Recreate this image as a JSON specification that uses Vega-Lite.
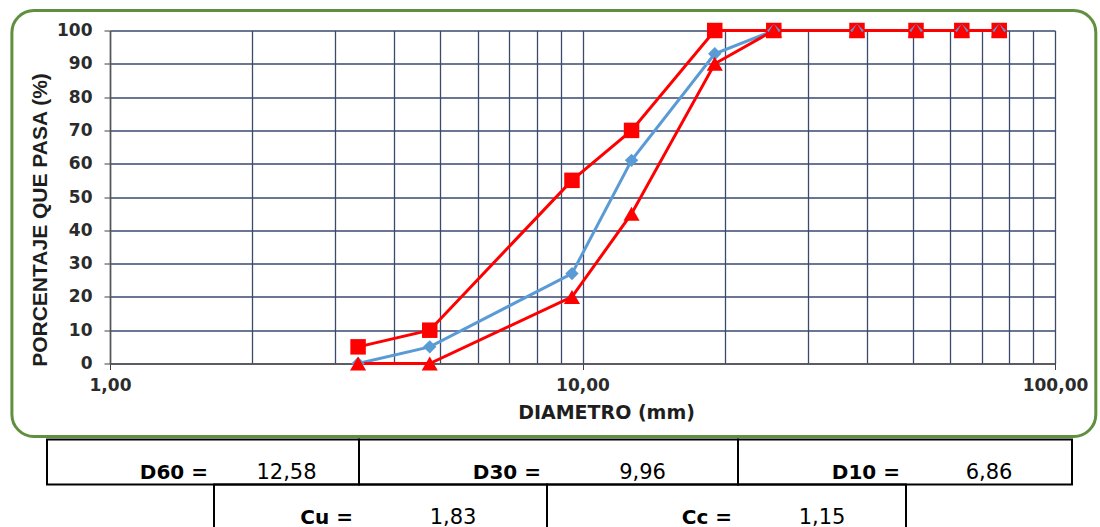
{
  "$schema": "https://vega.github.io/schema/vega-lite/v6.json",
  "padding": {"left": 10, "top": 8.5, "right": 0, "bottom": 0},
  "background": "white",
  "bounds": "flush",
  "spacing": 76,
  "config": {"view": {"stroke": null}, "font": "DejaVu Sans"},
  "datasets": {
    "curvas": [
      {"d": 3.35, "p": 5, "serie": "Superior"},
      {"d": 4.75, "p": 10, "serie": "Superior"},
      {"d": 9.5, "p": 55, "serie": "Superior"},
      {"d": 12.7, "p": 70, "serie": "Superior"},
      {"d": 19.05, "p": 100, "serie": "Superior"},
      {"d": 25.4, "p": 100, "serie": "Superior"},
      {"d": 38.1, "p": 100, "serie": "Superior"},
      {"d": 50.8, "p": 100, "serie": "Superior"},
      {"d": 63.5, "p": 100, "serie": "Superior"},
      {"d": 76.2, "p": 100, "serie": "Superior"},
      {"d": 3.35, "p": 0, "serie": "Muestra"},
      {"d": 4.75, "p": 5, "serie": "Muestra"},
      {"d": 9.5, "p": 27, "serie": "Muestra"},
      {"d": 12.7, "p": 61, "serie": "Muestra"},
      {"d": 19.05, "p": 93, "serie": "Muestra"},
      {"d": 25.4, "p": 100, "serie": "Muestra"},
      {"d": 38.1, "p": 100, "serie": "Muestra"},
      {"d": 50.8, "p": 100, "serie": "Muestra"},
      {"d": 63.5, "p": 100, "serie": "Muestra"},
      {"d": 76.2, "p": 100, "serie": "Muestra"},
      {"d": 3.35, "p": 0, "serie": "Inferior"},
      {"d": 4.75, "p": 0, "serie": "Inferior"},
      {"d": 9.5, "p": 20, "serie": "Inferior"},
      {"d": 12.7, "p": 45, "serie": "Inferior"},
      {"d": 19.05, "p": 90, "serie": "Inferior"},
      {"d": 25.4, "p": 100, "serie": "Inferior"},
      {"d": 38.1, "p": 100, "serie": "Inferior"},
      {"d": 50.8, "p": 100, "serie": "Inferior"},
      {"d": 63.5, "p": 100, "serie": "Inferior"},
      {"d": 76.2, "p": 100, "serie": "Inferior"}
    ],
    "tabla": [
      {"row": 1, "c0": 0, "c1": 2, "label": "D60 =", "value": "12,58", "lcol": 1, "vcol": 1.5},
      {"row": 1, "c0": 2, "c1": 4, "label": "D30 =", "value": "9,96", "lcol": 3, "vcol": 3.5},
      {"row": 1, "c0": 4, "c1": 6, "label": "D10 =", "value": "6,86", "lcol": 5, "vcol": 5.5},
      {"row": 2, "c0": 1, "c1": 3, "label": "Cu =", "value": "1,83", "lcol": 2, "vcol": 2.5},
      {"row": 2, "c0": 3, "c1": 5, "label": "Cc =", "value": "1,15", "lcol": 4, "vcol": 4.5}
    ]
  },
  "vconcat": [
    {
      "width": 945,
      "height": 333,
      "layer": [
        {
          "data": {"values": [{}]},
          "mark": {"type": "rect", "filled": false, "color": "#5f8f3f", "stroke": "#5f8f3f", "strokeWidth": 3, "cornerRadius": 22, "clip": false},
          "encoding": {
            "x": {"datum": 0.62, "type": "quantitative",
              "scale": {"type": "log", "domain": [1, 100], "nice": false},
              "axis": {
                "values": [1, 2, 3, 4, 5, 6, 7, 8, 9, 10, 20, 30, 40, 50, 60, 70, 80, 90, 100],
                "labelExpr": "datum.value == 1 || datum.value == 10 || datum.value == 100 ? replace(format(datum.value, '.2f'), '.', ',') : ''",
                "title": "DIAMETRO (mm)",
                "grid": true, "gridColor": "#3a4a6e", "gridWidth": 1.3,
                "tickSize": 6, "tickColor": "#404040",
                "tickOpacity": {"condition": {"test": "datum.value == 1 || datum.value == 10 || datum.value == 100", "value": 1}, "value": 0},
                "domainColor": "#555555", "domainWidth": 1.5,
                "labelFont": "DejaVu Sans", "labelFontSize": 17, "labelFontWeight": "bold", "labelColor": "#2b2b2b",
                "labelPadding": 8, "labelOverlap": false, "labelFlush": false,
                "titleFont": "DejaVu Sans", "titleFontSize": 19, "titleFontWeight": "bold", "titleColor": "#1e1e1e",
                "titlePadding": 10, "titleX": 496
              }
            },
            "x2": {"datum": 122},
            "y": {"datum": 106, "type": "quantitative",
              "scale": {"domain": [0, 100], "nice": false, "zero": false},
              "axis": {
                "values": [0, 10, 20, 30, 40, 50, 60, 70, 80, 90, 100],
                "title": "PORCENTAJE QUE PASA (%)",
                "grid": true, "gridColor": "#3a4a6e", "gridWidth": 1.3,
                "tickSize": 6, "tickColor": "#404040",
                "domainColor": "#555555", "domainWidth": 1.5,
                "labelFont": "DejaVu Sans", "labelFontSize": 17, "labelFontWeight": "bold", "labelColor": "#2b2b2b",
                "labelPadding": 12, "labelOverlap": false,
                "titleFont": "Liberation Sans", "titleFontSize": 21, "titleFontWeight": "bold", "titleColor": "#1e1e1e",
                "titlePadding": 6, "titleY": 189
              }
            },
            "y2": {"datum": -21.9}
          }
        },
        {
          "data": {"name": "curvas"},
          "mark": {"type": "line", "strokeWidth": 3},
          "encoding": {
            "x": {"field": "d", "type": "quantitative",
              "scale": {"type": "log", "domain": [1, 100], "nice": false},
              "axis": {
                "values": [1, 2, 3, 4, 5, 6, 7, 8, 9, 10, 20, 30, 40, 50, 60, 70, 80, 90, 100],
                "labelExpr": "datum.value == 1 || datum.value == 10 || datum.value == 100 ? replace(format(datum.value, '.2f'), '.', ',') : ''",
                "title": "DIAMETRO (mm)",
                "grid": true, "gridColor": "#3a4a6e", "gridWidth": 1.3,
                "tickSize": 6, "tickColor": "#404040",
                "tickOpacity": {"condition": {"test": "datum.value == 1 || datum.value == 10 || datum.value == 100", "value": 1}, "value": 0},
                "domainColor": "#555555", "domainWidth": 1.5,
                "labelFont": "DejaVu Sans", "labelFontSize": 17, "labelFontWeight": "bold", "labelColor": "#2b2b2b",
                "labelPadding": 8, "labelOverlap": false, "labelFlush": false,
                "titleFont": "DejaVu Sans", "titleFontSize": 19, "titleFontWeight": "bold", "titleColor": "#1e1e1e",
                "titlePadding": 10, "titleX": 496
              }
            },
            "y": {"field": "p", "type": "quantitative",
              "scale": {"domain": [0, 100], "nice": false, "zero": false},
              "axis": {
                "values": [0, 10, 20, 30, 40, 50, 60, 70, 80, 90, 100],
                "title": "PORCENTAJE QUE PASA (%)",
                "grid": true, "gridColor": "#3a4a6e", "gridWidth": 1.3,
                "tickSize": 6, "tickColor": "#404040",
                "domainColor": "#555555", "domainWidth": 1.5,
                "labelFont": "DejaVu Sans", "labelFontSize": 17, "labelFontWeight": "bold", "labelColor": "#2b2b2b",
                "labelPadding": 12, "labelOverlap": false,
                "titleFont": "Liberation Sans", "titleFontSize": 21, "titleFontWeight": "bold", "titleColor": "#1e1e1e",
                "titlePadding": 6, "titleY": 189
              }
            },
            "color": {"field": "serie", "type": "nominal",
              "scale": {"domain": ["Superior", "Muestra", "Inferior"], "range": ["#ff0000", "#5b9bd5", "#ff0000"]},
              "legend": null}
          }
        },
        {
          "data": {"name": "curvas"},
          "mark": {"type": "point", "filled": true, "opacity": 1, "strokeWidth": 0},
          "encoding": {
            "x": {"field": "d", "type": "quantitative",
              "scale": {"type": "log", "domain": [1, 100], "nice": false},
              "axis": {
                "values": [1, 2, 3, 4, 5, 6, 7, 8, 9, 10, 20, 30, 40, 50, 60, 70, 80, 90, 100],
                "labelExpr": "datum.value == 1 || datum.value == 10 || datum.value == 100 ? replace(format(datum.value, '.2f'), '.', ',') : ''",
                "title": "DIAMETRO (mm)",
                "grid": true, "gridColor": "#3a4a6e", "gridWidth": 1.3,
                "tickSize": 6, "tickColor": "#404040",
                "tickOpacity": {"condition": {"test": "datum.value == 1 || datum.value == 10 || datum.value == 100", "value": 1}, "value": 0},
                "domainColor": "#555555", "domainWidth": 1.5,
                "labelFont": "DejaVu Sans", "labelFontSize": 17, "labelFontWeight": "bold", "labelColor": "#2b2b2b",
                "labelPadding": 8, "labelOverlap": false, "labelFlush": false,
                "titleFont": "DejaVu Sans", "titleFontSize": 19, "titleFontWeight": "bold", "titleColor": "#1e1e1e",
                "titlePadding": 10, "titleX": 496
              }
            },
            "y": {"field": "p", "type": "quantitative",
              "scale": {"domain": [0, 100], "nice": false, "zero": false},
              "axis": {
                "values": [0, 10, 20, 30, 40, 50, 60, 70, 80, 90, 100],
                "title": "PORCENTAJE QUE PASA (%)",
                "grid": true, "gridColor": "#3a4a6e", "gridWidth": 1.3,
                "tickSize": 6, "tickColor": "#404040",
                "domainColor": "#555555", "domainWidth": 1.5,
                "labelFont": "DejaVu Sans", "labelFontSize": 17, "labelFontWeight": "bold", "labelColor": "#2b2b2b",
                "labelPadding": 12, "labelOverlap": false,
                "titleFont": "Liberation Sans", "titleFontSize": 21, "titleFontWeight": "bold", "titleColor": "#1e1e1e",
                "titlePadding": 6, "titleY": 189
              }
            },
            "color": {"field": "serie", "type": "nominal",
              "scale": {"domain": ["Superior", "Muestra", "Inferior"], "range": ["#ff0000", "#5b9bd5", "#ff0000"]},
              "legend": null},
            "shape": {"field": "serie", "type": "nominal",
              "scale": {"domain": ["Superior", "Muestra", "Inferior"], "range": ["square", "diamond", "triangle-up"]},
              "legend": null},
            "size": {"field": "serie", "type": "nominal",
              "scale": {"type": "ordinal", "domain": ["Superior", "Muestra", "Inferior"], "range": [240, 180, 260]},
              "legend": null}
          }
        }
      ]
    },
    {
      "width": 1000,
      "height": 90,
      "data": {"name": "tabla"},
      "layer": [
        {
          "mark": {"type": "rect", "filled": false, "color": "black", "stroke": "black", "strokeWidth": 2, "clip": false},
          "encoding": {
            "x": {"field": "c0", "type": "quantitative",
              "scale": {"domain": [0, 1, 2, 3, 4, 5, 6], "range": [-63, 104, 249, 437, 628, 796, 962], "nice": false, "zero": false},
              "axis": null},
            "x2": {"field": "c1"},
            "y": {"field": "row", "type": "ordinal", "scale": {"paddingInner": 0, "paddingOuter": 0}, "axis": null}
          }
        },
        {
          "mark": {"type": "text", "align": "right", "baseline": "alphabetic", "dx": -6, "dy": -6, "font": "DejaVu Sans", "fontWeight": "bold", "fontSize": 20, "color": "black"},
          "encoding": {
            "x": {"field": "lcol", "type": "quantitative"},
            "y": {"field": "row", "type": "ordinal", "bandPosition": 1},
            "text": {"field": "label"}
          }
        },
        {
          "mark": {"type": "text", "align": "center", "baseline": "alphabetic", "dy": -6, "font": "DejaVu Sans", "fontSize": 21, "color": "black"},
          "encoding": {
            "x": {"field": "vcol", "type": "quantitative"},
            "y": {"field": "row", "type": "ordinal", "bandPosition": 1},
            "text": {"field": "value"}
          }
        }
      ]
    }
  ]
}
